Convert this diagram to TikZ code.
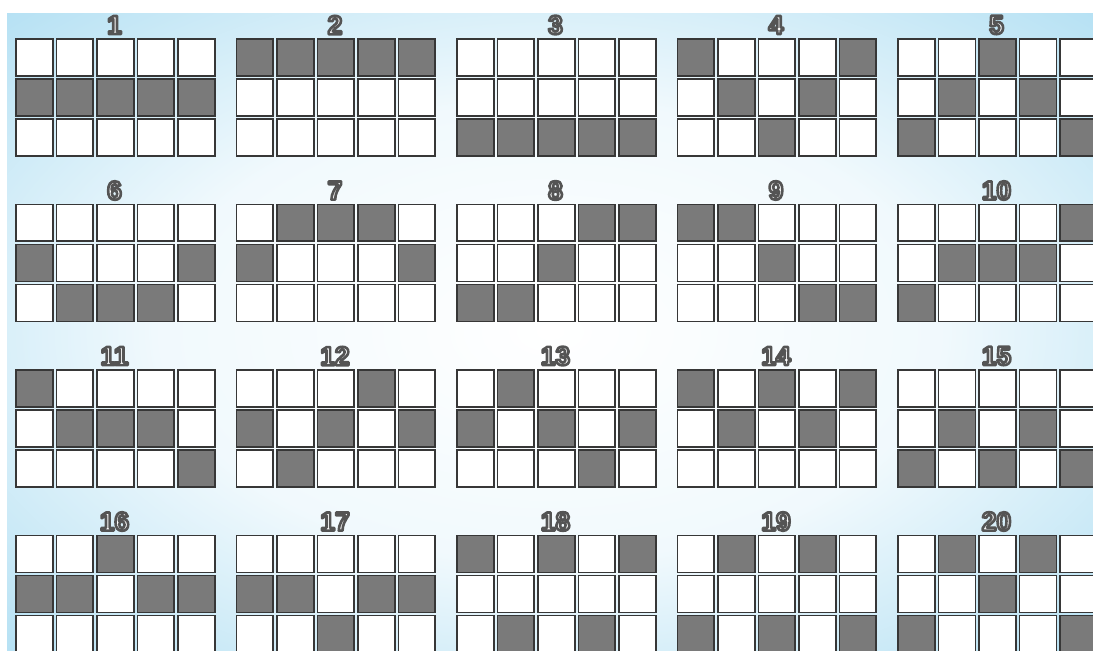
\documentclass[tikz,border=0pt]{standalone}
\usepackage{fontspec}
\setmainfont{Liberation Sans}
\usepackage{xcolor}
\usepackage{tikz}
\usetikzlibrary{positioning}

\definecolor{skyblue}{RGB}{160,216,240}
\definecolor{hitgray}{RGB}{122,122,122}
\definecolor{edgegray}{RGB}{55,55,55}

\pgfdeclareradialshading{glow}{\pgfpoint{0bp}{0bp}}{%
  color(0bp)=(white); color(18bp)=(white!85!skyblue);
  color(42bp)=(skyblue); color(75bp)=(skyblue!85!blue!55!cyan)}

\tikzset{
  sq/.style={draw=edgegray, line width=1pt, minimum width=0.74cm,
             minimum height=0.74cm, inner sep=0pt, anchor=north west},
  sq0/.style={sq, fill=white},
  sq1/.style={sq, fill=hitgray},
  numlbl/.style={inner sep=0pt, text=white,
                 font=\fontsize{15}{15}\selectfont\bfseries},
}
% outlined figures: white fill, grey stroke
\newcommand{\outl}[1]{\special{pdf:literal direct 0.33 G 1.5 w 1 j 2 Tr}#1\special{pdf:literal direct 0 Tr}}

\begin{document}
\begin{tikzpicture}[x=0.02cm, y=-0.02cm]

  \useasboundingbox (0,0) rectangle (1093,650);
  \clip (0,0) rectangle (1093,650);

  % Backdrop
  \shade[shading=glow] (7,13) rectangle (1093,650);

  % Paylines: 5 reels x 3 rows, read row by row
  \foreach \n/\pat in {
     1/{0,0,0,0,0, 1,1,1,1,1, 0,0,0,0,0},
     2/{1,1,1,1,1, 0,0,0,0,0, 0,0,0,0,0},
     3/{0,0,0,0,0, 0,0,0,0,0, 1,1,1,1,1},
     4/{1,0,0,0,1, 0,1,0,1,0, 0,0,1,0,0},
     5/{0,0,1,0,0, 0,1,0,1,0, 1,0,0,0,1},
     6/{0,0,0,0,0, 1,0,0,0,1, 0,1,1,1,0},
     7/{0,1,1,1,0, 1,0,0,0,1, 0,0,0,0,0},
     8/{0,0,0,1,1, 0,0,1,0,0, 1,1,0,0,0},
     9/{1,1,0,0,0, 0,0,1,0,0, 0,0,0,1,1},
    10/{0,0,0,0,1, 0,1,1,1,0, 1,0,0,0,0},
    11/{1,0,0,0,0, 0,1,1,1,0, 0,0,0,0,1},
    12/{0,0,0,1,0, 1,0,1,0,1, 0,1,0,0,0},
    13/{0,1,0,0,0, 1,0,1,0,1, 0,0,0,1,0},
    14/{1,0,1,0,1, 0,1,0,1,0, 0,0,0,0,0},
    15/{0,0,0,0,0, 0,1,0,1,0, 1,0,1,0,1},
    16/{0,0,1,0,0, 1,1,0,1,1, 0,0,0,0,0},
    17/{0,0,0,0,0, 1,1,0,1,1, 0,0,1,0,0},
    18/{1,0,1,0,1, 0,0,0,0,0, 0,1,0,1,0},
    19/{0,1,0,1,0, 0,0,0,0,0, 1,0,1,0,1},
    20/{0,1,0,1,0, 0,0,1,0,0, 1,0,0,0,1}} {
    \pgfmathsetmacro\px{15+220.5*mod(\n-1,5)}
    \pgfmathsetmacro\py{38+165.5*int((\n-1)/5)}
    \foreach \v [count=\k from 0] in \pat {
      \pgfmathtruncatemacro\cc{mod(\k,5)}
      \pgfmathtruncatemacro\rr{int(\k/5)}
      \node[sq\v] (p\n-\rr-\cc) at (\px+40.5*\cc, \py+40*\rr) {};
    }
    \node[numlbl] (lbl\n) at (\px+99.5, \py-13) {\outl{\n}};
  }

\end{tikzpicture}
\end{document}
